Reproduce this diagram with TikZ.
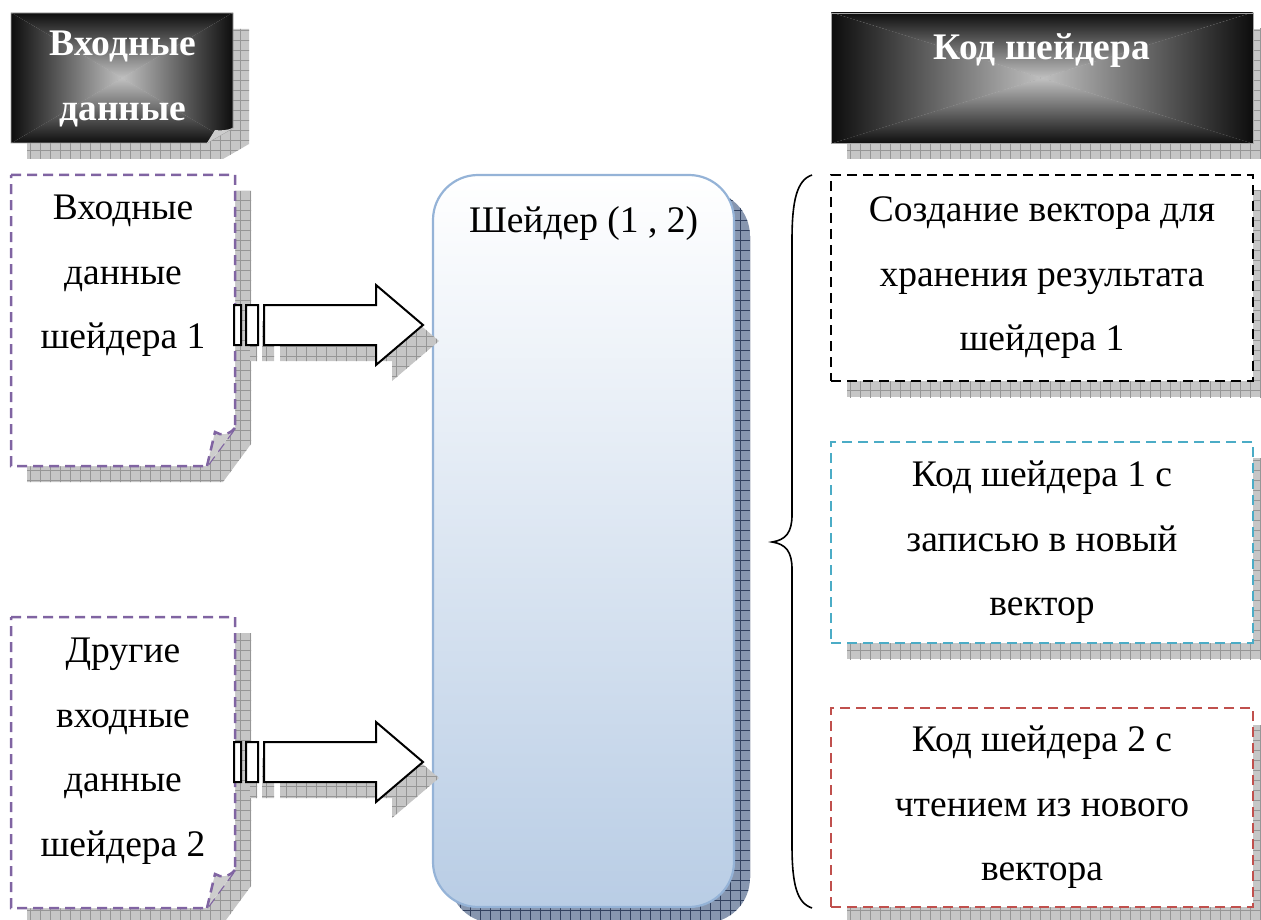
\documentclass[tikz,border=0pt]{standalone}
\usepackage{fontspec}
\setmainfont{Liberation Serif}
\definecolor{purp}{RGB}{128,100,162}
\definecolor{cyanb}{RGB}{75,172,198}
\definecolor{redb}{RGB}{192,80,77}
\definecolor{mainedge}{RGB}{149,179,215}
\definecolor{mainbot}{RGB}{185,205,229}
\definecolor{shfill}{RGB}{198,198,198}
\definecolor{shline}{RGB}{150,150,150}
\definecolor{mshfill}{RGB}{135,150,175}
\definecolor{mshline}{RGB}{50,65,95}
\definecolor{hdrout}{RGB}{12,12,12}
\definecolor{hdrmid}{RGB}{135,135,135}
\definecolor{hdrin}{RGB}{192,192,192}
\definecolor{flapc}{RGB}{205,205,205}
\newcommand{\gridshade}[3]{%
  \fill[#1] #3;
  \begin{scope}
    \clip #3;
    \draw[#2, line width=0.6pt] foreach \gx in {0,10,...,1280}{(\gx,-10) -- (\gx,940)}
      foreach \gy in {0,10,...,940}{(-10,\gy) -- (1280,\gy)};
  \end{scope}}
\newcommand{\hdrshade}[6]{% x1 y1 x2 y2 cx cy
  \shade[top color=hdrout, middle color=hdrmid, bottom color=hdrin] (#1,#2) -- (#3,#2) -- (#5,#6) -- cycle;
  \shade[top color=hdrin, middle color=hdrmid, bottom color=hdrout] (#1,#4) -- (#3,#4) -- (#5,#6) -- cycle;
  \shade[left color=hdrout, middle color=hdrmid, right color=hdrin] (#1,#2) -- (#1,#4) -- (#5,#6) -- cycle;
  \shade[left color=hdrin, middle color=hdrmid, right color=hdrout] (#3,#2) -- (#3,#4) -- (#5,#6) -- cycle;}
\newcommand{\arrowparts}[1]{(234,#1-20) rectangle (241,#1+20) (246,#1-20) rectangle (258,#1+20)
  (264,#1-20) -- (376,#1-20) -- (376,#1-40) -- (423,#1) -- (376,#1+40) -- (376,#1+20) -- (264,#1+20) -- cycle}
\begin{document}
\begin{tikzpicture}[x=1pt,y=-1pt,
  txt/.style={font=\fontsize{37.5}{64.5}\selectfont, align=center, inner sep=0pt},
  hdrtxt/.style={font=\fontsize{37.5}{65}\selectfont\bfseries, align=center, inner sep=0pt, text=white},
  dbox/.style={line width=2.5pt, dash pattern=on 10pt off 6pt},
  blk/.style={fill=white, draw=black, line width=2pt},
  bracestyle/.style={draw=black, line width=1.6pt}]
\useasboundingbox (0,0) rectangle (1261,920);
\clip (0,0) rectangle (1261,920);

% ---------- shadows
\gridshade{shfill}{shline}{(27,29) -- (249,29) -- (249,144) -- (223,159) -- (27,159) -- cycle}
\gridshade{shfill}{shline}{(847,29) rectangle (1275,159)}
\gridshade{shfill}{shline}{(27,191) -- (251,191) -- (251,444) -- (223,482) -- (27,482) -- cycle}
\gridshade{shfill}{shline}{(27,633) -- (251,633) -- (251,886) -- (223,924) -- (27,924) -- cycle}
\gridshade{shfill}{shline}{(847,191) rectangle (1275,397)}
\gridshade{shfill}{shline}{(847,458) rectangle (1275,659)}
\gridshade{shfill}{shline}{(847,725) rectangle (1275,924)}
\gridshade{mshfill}{mshline}{[rounded corners=45pt] (449,191) rectangle (750,923)}

% ---------- headers
\begin{scope}
  \clip (11,13) -- (233,13) -- (233,128) -- (207,143) -- (11,143) -- cycle;
  \hdrshade{10}{12}{234}{144}{122}{78}
\end{scope}
\draw[gray!70, line width=0.8pt] (11,13) -- (233,13) -- (233,128) -- (207,143) -- (11,143) -- cycle;
\fill[flapc] (207,143) -- (215,130) .. controls (221,131) and (228,130) .. (233,128) -- cycle;
\begin{scope}
  \clip (831,13) rectangle (1253,143);
  \hdrshade{830}{12}{1254}{144}{1042}{78}
\end{scope}
\draw[gray!70, line width=0.8pt] (831,13) rectangle (1253,143);
\node[hdrtxt] (h1) at (123,79) {Входные\\данные};
\node[hdrtxt, anchor=base] (h2) at (1042,60) {Код шейдера};

% ---------- main shader box
\node[draw=mainedge, line width=2.2pt, rounded corners=45pt, top color=white, bottom color=mainbot,
      minimum width=301pt, minimum height=732pt, inner sep=0pt] (main) at (583.5,541) {};
\node[txt, anchor=base] (mtxt) at (583.5,233) {Шейдер (1 , 2)};

% ---------- left input boxes
\fill[white] (11,175) -- (235,175) -- (235,428) -- (207,466) -- (11,466) -- cycle;
\draw[dbox, purp] (11,175) -- (235,175) -- (235,428) -- (207,466) -- (11,466) -- cycle;
\filldraw[dbox, purp, fill=flapc] (207,466) -- (215,432) .. controls (221,436) and (229,435) .. (235,428);
\node[txt] (in1) at (123,276) {Входные\\данные\\шейдера 1};

\fill[white] (11,617) -- (235,617) -- (235,870) -- (207,908) -- (11,908) -- cycle;
\draw[dbox, purp] (11,617) -- (235,617) -- (235,870) -- (207,908) -- (11,908) -- cycle;
\filldraw[dbox, purp, fill=flapc] (207,908) -- (215,874) .. controls (221,878) and (229,877) .. (235,870);
\node[txt] (in2) at (123,751) {Другие\\входные\\данные\\шейдера 2};

% ---------- right code boxes
\node[dbox, draw=black, fill=white, minimum width=422pt, minimum height=206pt, txt] (c1) at (1042,278)
  {Создание вектора для\\хранения результата\\шейдера 1};
\node[dbox, draw=cyanb, fill=white, minimum width=422pt, minimum height=201pt, txt] (c2) at (1042,542.5)
  {Код шейдера 1 с\\записью в новый\\вектор};
\node[dbox, draw=redb, fill=white, minimum width=422pt, minimum height=199pt, txt] (c3) at (1042,807.5)
  {Код шейдера 2 с\\чтением из нового\\вектора};

% ---------- block arrows with shadows
\begin{scope}[shift={(16,16)}]
  \gridshade{shfill}{shline}{\arrowparts{325}}
  \gridshade{shfill}{shline}{\arrowparts{762}}
\end{scope}
\path[blk] \arrowparts{325};
\path[blk] \arrowparts{762};

% ---------- brace
\coordinate (bt) at (812,175);
\coordinate (bm) at (772,542);
\coordinate (bb) at (812,908);
\draw[bracestyle] (bt) .. controls (797,180) and (792,200) .. (792,240) -- (792,515)
  .. controls (792,532) and (786,540) .. (bm) .. controls (786,544) and (792,552) .. (792,569)
  -- (792,845) .. controls (792,885) and (797,903) .. (bb);
\end{tikzpicture}
\end{document}
